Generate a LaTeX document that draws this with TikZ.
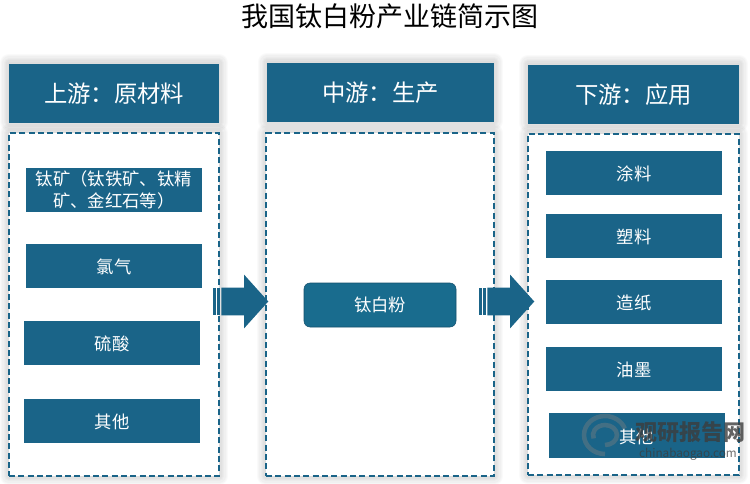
\documentclass[tikz,border=0pt]{standalone}
\usepackage{fontspec}
\setmainfont{Noto Sans CJK SC}
\usetikzlibrary{shapes.arrows}
\definecolor{tealblue}{HTML}{1A6488}
\definecolor{markgray}{HTML}{3C3C3C}
\tikzset{
  px/.style={x=0.75pt,y=-0.75pt},
  softshadow/.style={draw=black,opacity=0.02,line width=#1,line join=round},
  headbox/.style={fill=tealblue,text=white,inner sep=0pt,minimum height=44.25pt,font=\fontsize{17.5}{21}\selectfont},
  dashbox/.style={draw=tealblue,line width=1.3pt,dash pattern=on 4.6pt off 2.4pt,fill=white,inner sep=0pt},
  itembox/.style={fill=tealblue,text=white,inner sep=0pt,minimum width=132pt,minimum height=33pt,align=center,font=\fontsize{13}{16.5}\selectfont},
  blockarrow/.style={single arrow,fill=tealblue,inner xsep=0pt,inner ysep=10.125pt,minimum height=35.25pt,
    single arrow head extend=9.75pt,single arrow tip angle=96,anchor=tail},
  stripebox/.style={fill=tealblue,inner sep=0pt,minimum width=2.1pt,minimum height=20.25pt},
  markbig/.style={text=markgray,opacity=0.8,inner sep=0pt,font=\fontsize{16.5}{18}\bfseries\selectfont},
  marksmall/.style={text=markgray,opacity=0.75,inner sep=0pt,font=\fontsize{8.8}{10}\selectfont},
  markarc/.style={line width=3.4pt,gray!55!tealblue,opacity=0.75},
}
\begin{document}
\begin{tikzpicture}[px]
  \useasboundingbox (0,0) rectangle (750,483);
  % shadows
  \foreach \wd in {2,4,...,14} {
    \draw[softshadow=\wd pt] (9,63) rectangle (219,122);
    \draw[softshadow=\wd pt] (267,62) rectangle (494,121);
    \draw[softshadow=\wd pt] (528,64) rectangle (739,123);
    \draw[softshadow=\wd pt] (9,133) rectangle (219,476);
    \draw[softshadow=\wd pt] (266,133) rectangle (494,476);
    \draw[softshadow=\wd pt] (528,134) rectangle (739,475);
  }
  \node (title) at (389.5,16) {\fontsize{20.25}{24}\selectfont 我国钛白粉产业链简示图};
  % headers
  \node[headbox,minimum width=157.5pt] (headup) at (114,93.5) {上游：原材料};
  \node[headbox,minimum width=170.25pt] (headmid) at (380.5,92.5) {中游：生产};
  \node[headbox,minimum width=158.25pt] (headdown) at (633.5,94.5) {下游：应用};
  % dashed frames
  \node[dashbox,minimum width=157.5pt,minimum height=257.25pt] (frameup) at (114,304.5) {};
  \node[dashbox,minimum width=171pt,minimum height=257.25pt] (framemid) at (380,304.5) {};
  \node[dashbox,minimum width=158.25pt,minimum height=255.75pt] (framedown) at (633.5,304.5) {};
  % upstream
  \node[itembox] (ore) at (114,190) {钛矿（钛铁矿、钛精\\矿、金红石等）};
  \node[itembox,text height=13pt,text depth=1.6pt] (chlorine) at (114,266) {氯气};
  \node[itembox,text height=13pt,text depth=1.6pt] (acid) at (112,342.5) {硫酸};
  \node[itembox,text height=13pt,text depth=1.6pt] (otherup) at (112,421) {其他};
  % middle
  \node[itembox,draw=tealblue!80!black,rounded corners=4.5pt,fill=tealblue!95!cyan,minimum width=114pt] (tio) at (380,305) {钛白粉};
  % downstream
  \node[itembox,text height=13pt,text depth=1.6pt] (paint) at (634,173) {涂料};
  \node[itembox,text height=13pt,text depth=1.6pt] (plastic) at (634,236) {塑料};
  \node[itembox,text height=13pt,text depth=1.6pt] (paper) at (634,302) {造纸};
  \node[itembox,text height=13pt,text depth=1.6pt] (ink) at (634,369) {油墨};
  \node[itembox,text height=13pt,text depth=1.6pt,minimum height=33.75pt] (otherdown) at (636.5,435.5) {其他};
  % arrows
  \node[blockarrow] (arrowa) at (221,301.5) {};
  \node[stripebox] (stripea) at (214.5,301.5) {};
  \node[stripebox] (stripeb) at (218.5,301.5) {};
  \node[blockarrow] (arrowb) at (487,301.5) {};
  \node[stripebox] (stripec) at (480.5,301.5) {};
  \node[stripebox] (striped) at (484.5,301.5) {};
  % watermark
  \draw[markarc] (605,454) arc (90:340:21 and 19);
  \draw[markarc] (605,445) arc (90:-200:12 and 10);
  \node[markbig] (markname) at (690,432) {观研报告网};
  \node[marksmall] (markurl) at (688,454) {chinabaogao.com};
\end{tikzpicture}
\end{document}
